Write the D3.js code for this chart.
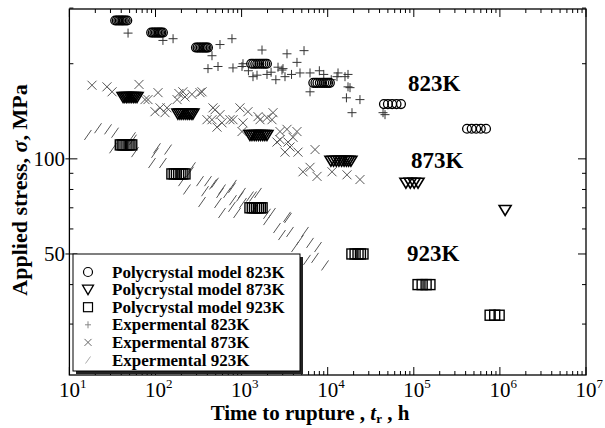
<!DOCTYPE html>
<html><head><meta charset="utf-8">
<script src="https://cdn.jsdelivr.net/npm/d3@7"></script>
<style>body{margin:0;background:#fff}</style>
</head><body>
<svg id="c" width="605" height="428" xmlns="http://www.w3.org/2000/svg"></svg>
<script>
// ---------- data ----------
const xDecades = [1,2,3,4,5,6,7];          // tick labels 10^n
const yLabels  = [50, 100];
const yMinor   = [30,40,60,70,80,90,200,300];

// model clusters: [stress, [times...]]
const model823 = [
  [274, [34,35.5,37,38.5,40,41.5,43,45,47]],
  [251, [89,93,97,101,105,109,113,117,122]],
  [225, [295,308,322,336,350,364,378,392,407]],
  [200, [1290,1360,1440,1520,1610,1700,1790,1880,1970]],
  [174, [6800,7200,7600,8100,8600,9100,9600,10100,10600]],
  [149, [45000,50000,56000,63000,71000]],
  [124.5, [415000,470000,530000,600000,690000]]
];
const model873 = [
  [157, [42,44,46,48,50.5,53,55.5,58,61]],
  [139, [182,192,202,213,225,237,248,260,272]],
  [119, [1250,1320,1400,1480,1570,1660,1760,1860,1970]],
  [98.6, [10900,11700,12600,13500,14500,15500,16500,17500,18600]],
  [84, [81000,91000,101000,112000]],
  [68.9, [1150000]]
];
const model923 = [
  [110.7, [39,41,43,45.5,48,50.5,53]],
  [89.6, [155,165,175,186,197,208,220]],
  [70, [1250,1330,1410,1490,1570,1650,1730]],
  [50, [19100,20800,22500,24000,25700]],
  [40, [112000,125000,139000,154000]],
  [32, [770000,870000,980000]]
];

// experimental [time, stress]
const exp823 = [[48,250],[122,237],[160,240],[561,230],[453,212],[773,240],[407,193],[532,196],
  [794,194],[1011,196],[1726,221],[3366,215],[5308,220],[1038,200],[1356,182],[1972,185],[2944,191],
  [3192,182],[4397,202],[4766,187],[6234,187],[2649,195],[6234,163],[13180,187],[17210,185],
  [17210,169],[16500,156],[23700,154],[19150,140],[43900,140],[12820,182],[15880,182],[18160,168],
  [3026,193],[1510,184],[1200,190],[2200,188],[2500,178],[3800,185],[8000,190],[9000,185],
  [11000,178],[46300,138]];
const exp873 = [[18.3,171],[27.3,169],[31.3,163],[64.3,172],[75.5,154],[81.8,154],[107,162],
  [178,154],[187,161],[220,157],[208,163],[265,160],[329,162],[347,163],[98.7,141],[129,140],
  [113,145],[136,145],[491,143],[453,133],[518,126],[592,130],[561,138],[465,145],[396,133],
  [957,145],[1186,141],[794,133],[1038,130],[733,133],[1636,133],[2254,133],[1550,136],[1972,135],
  [2317,140],[1011,122],[2793,122],[4397,122],[3366,124],[3954,117],[2576,113],[3458,113],
  [3648,109],[4519,105],[7129,107],[3192,105],[6234,94],[5166,91],[7516,88],[16750,89],
  [11220,91],[23700,86],[2793,115]];
const exp923 = [[16.4,119],[21.5,125],[28.1,124],[33.9,121],[53.3,117],[54.8,115],[32.1,108],
  [57.8,105],[104,108],[140,107],[98.7,104.5],[91.1,97],[122,97],[252,91],[265,94],[203,85],
  [232,80],[329,85],[407,85],[491,84],[376,79],[592,80],[773,81],[1011,78],[347,73],[532,72.5],
  [773,70.5],[1038,72.5],[592,67.4],[885,67.4],[465,83],[561,78],[677,78],[794,74],[957,76],
  [1356,76],[794,82.7],[1251,76],[1432,70],[1550,78],[1972,64],[2254,67.4],[2576,60.4],[3458,65],
  [2944,57.4],[3648,58.7],[5448,58.7],[4766,55.4],[4169,52.6],[6234,54.2],[7720,52.6],[7129,48.6],
  [5746,47.9],[1972,67],[3366,65.5],[9310,46]];

const legendLabels = ["Polycrystal model 823K","Polycrystal model 873K","Polycrystal model 923K",
  "Expermental 823K","Expermental 873K","Expermental 923K"];
const tempLabels = ["823K","873K","923K"];
const tempLabelPos = [[408,91],[411,168],[407,261]];

// ---------- layout ----------
const L = 69.4, R = 586, T = 9, B = 375;
const FONT = "'Liberation Serif','Times New Roman',serif";
const svg = d3.select("#c");
const x = d3.scaleLog().domain([10, 1e7]).range([L, R]);
const y = d3.scaleLog().domain([20.7, 298]).range([B, T]);

const flat = clusters => clusters.flatMap(([s, ts]) => ts.map(t => [t, s]));

// experimental symbols
const gExp = svg.append("g");
exp923.forEach(([t,s]) => {
  gExp.append("line").attr("x1", x(t)-3.5).attr("y1", y(s)+5).attr("x2", x(t)+3.5).attr("y2", y(s)-5)
    .attr("stroke", "#555").attr("stroke-width", 1);
});
exp873.forEach(([t,s]) => {
  const cx = x(t), cy = y(s), a = 4.5;
  gExp.append("path").attr("d", `M${cx-a},${cy-a}L${cx+a},${cy+a}M${cx-a},${cy+a}L${cx+a},${cy-a}`)
    .attr("stroke", "#555").attr("stroke-width", 1).attr("fill", "none");
});
exp823.forEach(([t,s]) => {
  const cx = x(t), cy = y(s), a = 4.5;
  gExp.append("path").attr("d", `M${cx-a},${cy}L${cx+a},${cy}M${cx},${cy-a}L${cx},${cy+a}`)
    .attr("stroke", "#333").attr("stroke-width", 1).attr("fill", "none");
});

// model symbols
const gM = svg.append("g").attr("fill", "none").attr("stroke", "#000");
flat(model823).forEach(([t,s]) => gM.append("circle").attr("cx", x(t)).attr("cy", y(s)).attr("r", 4.4).attr("stroke-width", 1.3));
flat(model873).forEach(([t,s]) => {
  const cx = x(t), cy = y(s);
  gM.append("path").attr("d", `M${cx-6},${cy-4.5}L${cx+6},${cy-4.5}L${cx},${cy+5.5}Z`).attr("stroke-width", 1.6);
});
flat(model923).forEach(([t,s]) => gM.append("rect").attr("x", x(t)-5).attr("y", y(s)-5).attr("width", 10).attr("height", 10).attr("stroke-width", 1.4));

// frame
svg.append("rect").attr("x", L).attr("y", T).attr("width", R-L).attr("height", B-T)
  .attr("fill", "none").attr("stroke", "#000").attr("stroke-width", 1.3);

// x ticks
const gx = svg.append("g").attr("stroke", "#000").attr("stroke-width", 1);
xDecades.forEach(d => {
  for (let m = 1; m <= 9; m++) {
    const v = m * Math.pow(10, d);
    if (v > 1e7 || (d === 7 && m > 1)) continue;
    const px = x(v), len = m === 1 ? 8 : 4;
    gx.append("line").attr("x1", px).attr("x2", px).attr("y1", B).attr("y2", B - len);
    gx.append("line").attr("x1", px).attr("x2", px).attr("y1", T).attr("y2", T + len);
  }
});
// y ticks
yLabels.forEach(v => {
  const py = y(v);
  gx.append("line").attr("x1", L-4).attr("x2", L+8).attr("y1", py).attr("y2", py);
  gx.append("line").attr("x1", R).attr("x2", R-8).attr("y1", py).attr("y2", py);
});
yMinor.forEach(v => {
  const py = y(v);
  gx.append("line").attr("x1", L).attr("x2", L+4).attr("y1", py).attr("y2", py);
  gx.append("line").attr("x1", R).attr("x2", R-4).attr("y1", py).attr("y2", py);
});

// tick labels
xDecades.forEach(d => {
  const t = svg.append("text").attr("x", x(Math.pow(10, d)) - 10.5).attr("y", 397)
    .attr("font-family", FONT).attr("font-size", 21);
  t.append("tspan").text("10");
  t.append("tspan").attr("font-size", 13).attr("dy", -9).text(d);
});
yLabels.forEach(v => {
  svg.append("text").attr("x", 65).attr("y", y(v) + 7.5).attr("text-anchor", "end")
    .attr("font-family", FONT).attr("font-size", 21).text(v);
});

// axis titles
const xt = svg.append("text").attr("x", 310).attr("y", 420).attr("text-anchor", "middle")
  .attr("font-family", FONT).attr("font-size", 21).attr("font-weight", "bold");
xt.append("tspan").text("Time to rupture , ");
xt.append("tspan").attr("font-style", "italic").text("t");
xt.append("tspan").attr("font-size", 13).attr("dy", 3).text("r");
xt.append("tspan").attr("dy", -3).text(" , h");

const yt = svg.append("text").attr("transform", "translate(27,190) rotate(-90)").attr("text-anchor", "middle")
  .attr("font-family", FONT).attr("font-size", 22).attr("font-weight", "bold");
yt.append("tspan").text("Applied stress, ");
yt.append("tspan").attr("font-style", "italic").text("σ");
yt.append("tspan").text(", MPa");

// temperature annotations
tempLabels.forEach((s, i) => {
  svg.append("text").attr("x", tempLabelPos[i][0]).attr("y", tempLabelPos[i][1])
    .attr("font-family", FONT).attr("font-size", 23).attr("font-weight", "bold").text(s);
});

// legend
const lg = svg.append("g");
lg.append("rect").attr("x", 76).attr("y", 257).attr("width", 227).attr("height", 117).attr("fill", "#222");
lg.append("rect").attr("x", 73).attr("y", 254).attr("width", 227).attr("height", 117)
  .attr("fill", "#fff").attr("stroke", "#000").attr("stroke-width", 1);
legendLabels.forEach((lab, i) => {
  const cy = 272 + i * 17.6, cx = 88;
  if (i === 0) lg.append("circle").attr("cx", cx).attr("cy", cy).attr("r", 4.5).attr("fill", "none").attr("stroke", "#000").attr("stroke-width", 1.2);
  if (i === 1) lg.append("path").attr("d", `M${cx-5.5},${cy-4.5}L${cx+5.5},${cy-4.5}L${cx},${cy+5}Z`).attr("fill", "none").attr("stroke", "#000").attr("stroke-width", 1.3);
  if (i === 2) lg.append("rect").attr("x", cx-4.5).attr("y", cy-4.5).attr("width", 9).attr("height", 9).attr("fill", "none").attr("stroke", "#000").attr("stroke-width", 1.2);
  if (i === 3) lg.append("path").attr("d", `M${cx-3},${cy}L${cx+3},${cy}M${cx},${cy-3.5}L${cx},${cy+3.5}`).attr("stroke", "#888").attr("stroke-width", 1);
  if (i === 4) lg.append("path").attr("d", `M${cx-3.5},${cy-3.5}L${cx+3.5},${cy+3.5}M${cx-3.5},${cy+3.5}L${cx+3.5},${cy-3.5}`).attr("stroke", "#666").attr("stroke-width", 1);
  if (i === 5) lg.append("line").attr("x1", cx-2.5).attr("y1", cy+3.5).attr("x2", cx+2.5).attr("y2", cy-3.5).attr("stroke", "#aaa").attr("stroke-width", 1);
  lg.append("text").attr("x", 112).attr("y", cy + 5.5).attr("font-family", FONT).attr("font-size", 17)
    .attr("font-weight", "bold").text(lab);
});
</script>
</body></html>
